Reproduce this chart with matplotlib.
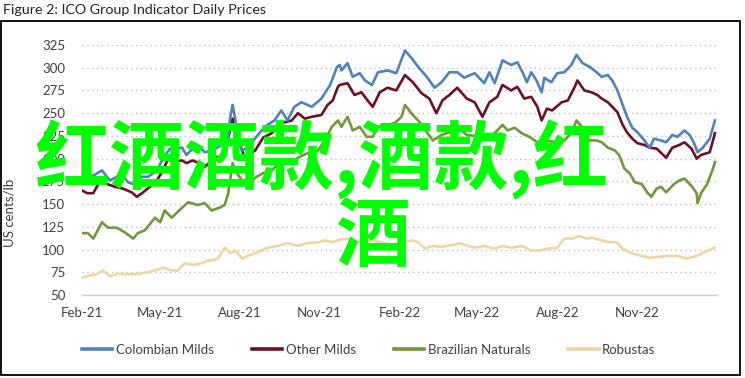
import matplotlib
matplotlib.use("Agg")
import matplotlib.pyplot as plt
import matplotlib.dates as mdates
import pandas as pd
from matplotlib.patches import Rectangle

title = "Figure 2: ICO Group Indicator Daily Prices"
ylabel = "US cents/lb"
watermark_1 = "红酒酒款,酒款,红"
watermark_2 = "酒"

colombian_dates = [
    "2021-02-01", "2021-02-24", "2021-03-05", "2021-03-13", "2021-03-20", "2021-03-26",
    "2021-04-01", "2021-04-09", "2021-04-18", "2021-04-28", "2021-05-05", "2021-05-13",
    "2021-05-27", "2021-06-01", "2021-06-08", "2021-06-16", "2021-06-22", "2021-07-01",
    "2021-07-13", "2021-07-19", "2021-07-21", "2021-07-24", "2021-07-27", "2021-07-29",
    "2021-08-04", "2021-08-10", "2021-08-22", "2021-08-30", "2021-09-10", "2021-09-18",
    "2021-09-25", "2021-10-03", "2021-10-11", "2021-10-23", "2021-11-03", "2021-11-13",
    "2021-11-21", "2021-11-24", "2021-11-26", "2021-12-03", "2021-12-09", "2021-12-17",
    "2021-12-23", "2021-12-31", "2022-01-07", "2022-01-18", "2022-01-28", "2022-02-07",
    "2022-02-15", "2022-02-22", "2022-03-04", "2022-03-13", "2022-03-21", "2022-03-30",
    "2022-04-08", "2022-04-16", "2022-04-28", "2022-05-09", "2022-05-15", "2022-05-21",
    "2022-05-30", "2022-06-09", "2022-06-16", "2022-06-22", "2022-06-27", "2022-07-02",
    "2022-07-08", "2022-07-14", "2022-07-17", "2022-07-25", "2022-08-01", "2022-08-09",
    "2022-08-17", "2022-08-23", "2022-08-30", "2022-09-07", "2022-09-15", "2022-09-21",
    "2022-09-28", "2022-10-03", "2022-10-09", "2022-10-15", "2022-10-20", "2022-10-26",
    "2022-11-01", "2022-11-09", "2022-11-15", "2022-11-20", "2022-11-28", "2022-12-04",
    "2022-12-11", "2022-12-17", "2022-12-25", "2022-12-31", "2023-01-05", "2023-01-09",
    "2023-01-15", "2023-01-23", "2023-01-29",
]
colombian_vals = [
    174, 187, 176, 180, 181, 174, 172, 180, 180, 187, 200, 211,
    212, 204, 211, 213, 207, 209, 216, 222, 244, 259, 244, 224,
    209, 212, 226, 235, 242, 253, 242, 257, 262, 257, 266, 281,
    301, 303, 297, 305, 290, 294, 286, 281, 295, 297, 294, 319,
    310, 301, 290, 278, 284, 295, 295, 289, 294, 283, 295, 283,
    308, 303, 306, 295, 284, 295, 286, 273, 289, 284, 294, 295,
    303, 314, 305, 301, 295, 290, 292, 286, 275, 259, 246, 234,
    229, 220, 212, 222, 220, 218, 226, 224, 231, 226, 217, 207,
    212, 222, 242,
]

other_dates = [
    "2021-02-01", "2021-02-07", "2021-02-14", "2021-02-22", "2021-03-02", "2021-03-11",
    "2021-03-20", "2021-03-30", "2021-04-05", "2021-04-11", "2021-04-20", "2021-04-28",
    "2021-05-05", "2021-05-11", "2021-05-16", "2021-05-27", "2021-06-01", "2021-06-08",
    "2021-06-16", "2021-06-22", "2021-07-04", "2021-07-15", "2021-07-21", "2021-07-24",
    "2021-07-30", "2021-08-07", "2021-08-19", "2021-08-28", "2021-09-07", "2021-09-18",
    "2021-09-30", "2021-10-07", "2021-10-15", "2021-10-23", "2021-11-03", "2021-11-10",
    "2021-11-16", "2021-11-22", "2021-11-24", "2021-12-03", "2021-12-11", "2021-12-19",
    "2021-12-26", "2022-01-01", "2022-01-09", "2022-01-18", "2022-01-28", "2022-02-07",
    "2022-02-16", "2022-02-26", "2022-03-07", "2022-03-15", "2022-03-22", "2022-03-30",
    "2022-04-08", "2022-04-19", "2022-04-28", "2022-05-07", "2022-05-15", "2022-05-24",
    "2022-05-30", "2022-06-09", "2022-06-16", "2022-06-24", "2022-07-02", "2022-07-09",
    "2022-07-14", "2022-07-20", "2022-07-26", "2022-08-06", "2022-08-13", "2022-08-21",
    "2022-08-24", "2022-09-01", "2022-09-09", "2022-09-16", "2022-09-21", "2022-09-28",
    "2022-10-03", "2022-10-09", "2022-10-15", "2022-10-20", "2022-10-26", "2022-11-01",
    "2022-11-09", "2022-11-15", "2022-11-23", "2022-12-04", "2022-12-11", "2022-12-19",
    "2022-12-25", "2023-01-02", "2023-01-08", "2023-01-13", "2023-01-23", "2023-01-29",
]
other_vals = [
    165, 162, 162, 176, 172, 169, 167, 163, 158, 162, 169, 176,
    187, 200, 196, 198, 195, 198, 195, 191, 201, 204, 231, 244,
    222, 201, 209, 223, 228, 239, 242, 250, 244, 246, 248, 259,
    264, 279, 281, 283, 270, 273, 264, 257, 273, 278, 275, 292,
    284, 272, 266, 250, 264, 270, 278, 266, 262, 246, 262, 268,
    281, 275, 279, 266, 268, 257, 242, 255, 253, 262, 264, 279,
    286, 275, 273, 270, 266, 262, 257, 251, 237, 229, 222, 217,
    215, 212, 211, 201, 212, 215, 218, 211, 200, 204, 207, 228,
]

brazil_dates = [
    "2021-02-01", "2021-02-08", "2021-02-14", "2021-02-24", "2021-03-03", "2021-03-13",
    "2021-03-22", "2021-04-01", "2021-04-06", "2021-04-14", "2021-04-26", "2021-05-02",
    "2021-05-07", "2021-05-15", "2021-05-27", "2021-06-03", "2021-06-14", "2021-06-22",
    "2021-06-30", "2021-07-09", "2021-07-15", "2021-07-19", "2021-07-24", "2021-07-29",
    "2021-08-04", "2021-08-10", "2021-08-19", "2021-08-28", "2021-09-07", "2021-09-18",
    "2021-09-30", "2021-10-07", "2021-10-18", "2021-10-30", "2021-11-07", "2021-11-15",
    "2021-11-22", "2021-11-26", "2021-12-03", "2021-12-09", "2021-12-17", "2021-12-25",
    "2022-01-01", "2022-01-07", "2022-01-17", "2022-01-26", "2022-02-03", "2022-02-07",
    "2022-02-16", "2022-02-24", "2022-03-04", "2022-03-11", "2022-03-21", "2022-03-30",
    "2022-04-08", "2022-04-19", "2022-04-28", "2022-05-09", "2022-05-21", "2022-05-30",
    "2022-06-05", "2022-06-13", "2022-06-21", "2022-06-30", "2022-07-09", "2022-07-20",
    "2022-07-31", "2022-08-09", "2022-08-17", "2022-08-23", "2022-08-29", "2022-09-05",
    "2022-09-15", "2022-09-21", "2022-09-28", "2022-10-06", "2022-10-11", "2022-10-17",
    "2022-10-23", "2022-10-29", "2022-11-06", "2022-11-12", "2022-11-17", "2022-11-23",
    "2022-11-28", "2022-12-04", "2022-12-13", "2022-12-19", "2022-12-25", "2023-01-02",
    "2023-01-08", "2023-01-09", "2023-01-13", "2023-01-20", "2023-01-26", "2023-01-29",
]
brazil_vals = [
    118, 118, 112, 130, 124, 124, 119, 112, 118, 121, 135, 130,
    143, 135, 146, 152, 149, 151, 143, 146, 149, 162, 195, 184,
    176, 172, 179, 184, 187, 198, 195, 201, 206, 209, 220, 235,
    242, 235, 246, 231, 235, 224, 224, 235, 237, 239, 246, 259,
    248, 240, 229, 220, 226, 229, 235, 226, 225, 222, 228, 237,
    231, 234, 228, 224, 218, 220, 218, 220, 228, 242, 235, 220,
    220, 218, 212, 209, 204, 189, 184, 174, 172, 163, 158, 167,
    169, 163, 172, 176, 178, 170, 162, 151, 162, 172, 187, 196,
]

robusta_dates = [
    "2021-02-01", "2021-02-08", "2021-02-18", "2021-02-25", "2021-03-05", "2021-03-14",
    "2021-03-26", "2021-04-06", "2021-04-17", "2021-04-26", "2021-05-05", "2021-05-15",
    "2021-05-22", "2021-05-30", "2021-06-08", "2021-06-19", "2021-06-26", "2021-06-30",
    "2021-07-07", "2021-07-15", "2021-07-21", "2021-07-27", "2021-08-04", "2021-08-10",
    "2021-08-22", "2021-09-02", "2021-09-14", "2021-09-25", "2021-10-07", "2021-10-18",
    "2021-10-30", "2021-11-07", "2021-11-16", "2021-11-24", "2021-12-03", "2021-12-11",
    "2021-12-19", "2021-12-31", "2022-01-11", "2022-01-23", "2022-02-03", "2022-02-15",
    "2022-02-22", "2022-03-02", "2022-03-10", "2022-03-21", "2022-04-02", "2022-04-11",
    "2022-04-20", "2022-04-28", "2022-05-09", "2022-05-21", "2022-05-30", "2022-06-09",
    "2022-06-21", "2022-07-02", "2022-07-12", "2022-07-21", "2022-08-01", "2022-08-09",
    "2022-08-18", "2022-08-26", "2022-09-03", "2022-09-10", "2022-09-21", "2022-09-30",
    "2022-10-08", "2022-10-15", "2022-10-25", "2022-11-06", "2022-11-15", "2022-11-24",
    "2022-12-05", "2022-12-17", "2022-12-28", "2023-01-08", "2023-01-17", "2023-01-28",
]
robusta_vals = [
    69, 71, 73, 77, 71, 73, 73, 73, 75, 77, 80, 77,
    77, 85, 83, 85, 88, 88, 90, 102, 96, 99, 90, 93,
    97, 102, 104, 107, 104, 107, 108, 110, 108, 111, 112, 110,
    108, 110, 108, 105, 108, 110, 108, 101, 104, 103, 105, 107,
    104, 102, 104, 101, 104, 102, 104, 99, 99, 101, 102, 112,
    112, 115, 112, 113, 110, 108, 108, 101, 96, 93, 91, 92,
    93, 93, 90, 93, 97, 102,
]

series_names = ["Colombian Milds", "Other Milds", "Brazilian Naturals", "Robustas"]
series_colors = ["#4f81bd", "#6e1025", "#73973d", "#ecd6a4"]
yticks = [50, 75, 100, 125, 150, 175, 200, 225, 250, 275, 300, 325]
xtick_dates = ["2021-02-01", "2021-05-01", "2021-08-01", "2021-11-01",
               "2022-02-01", "2022-05-01", "2022-08-01", "2022-11-01"]

plt.rcParams['font.family'] = ['Lato', 'DejaVu Sans']

fig = plt.figure(figsize=(7.45, 3.78), dpi=100)
ax = fig.add_axes([0.110, 0.2196, 0.852, 0.6614])

all_series = [
    (colombian_dates, colombian_vals),
    (other_dates, other_vals),
    (brazil_dates, brazil_vals),
    (robusta_dates, robusta_vals),
]
# robustas first so the other lines sit on top like in the source
for i in [3, 2, 1, 0]:
    d, v = all_series[i]
    ax.plot(pd.to_datetime(d), v, color=series_colors[i], lw=1.9,
            label=series_names[i], zorder=3 + (3 - i))

ax.set_ylim(50, 325)
ax.set_yticks(yticks)
ax.set_xlim(pd.Timestamp("2021-02-01"), pd.Timestamp("2023-01-31"))
ax.set_xticks(pd.to_datetime(xtick_dates))
ax.xaxis.set_major_formatter(mdates.DateFormatter("%b-%y"))

for s in ["top", "right", "left"]:
    ax.spines[s].set_visible(False)
ax.spines["bottom"].set_color("#d0d0d0")
ax.spines["bottom"].set_linewidth(1.0)
ax.tick_params(length=0, labelsize=9.5, colors="#404040")
ax.tick_params(axis="y", pad=12)
ax.tick_params(axis="x", pad=9)
for y in yticks[1:]:
    ax.axhline(y, color="#bdbdbd", lw=1.0, ls=(0, (1, 2.5)), zorder=1)

fig.text(0.013, 0.4365, ylabel, rotation=90, ha="center", va="center",
         fontsize=9.5, color="#404040")

handles, labels = ax.get_legend_handles_labels()
order = [labels.index(n) for n in series_names]
fig.legend([handles[i] for i in order], series_names, loc="center",
           bbox_to_anchor=(0.495, 0.074), ncol=4, frameon=False, fontsize=9.5,
           handlelength=2.3, handletextpad=0.25, columnspacing=2.9,
           labelcolor="#404040")
for lh in fig.legends[0].legend_handles:
    lh.set_linewidth(2.6)

fig.text(0.004, 0.9735, title, ha="left", va="center", fontsize=10.3, color="#222222")
fig.patches.append(Rectangle((0.002, 0.008), 0.991, 0.936, transform=fig.transFigure,
                             fill=False, edgecolor="black", lw=1.3))

wm = dict(color="#00ff00", fontsize=54, fontweight="bold",
          family=["Noto Sans CJK SC", "DejaVu Sans"], va="center", ha="left", zorder=10)
fig.text(35 / 745, 1 - 160 / 378, watermark_1, **wm)
fig.text(335 / 745, 1 - 238 / 378, watermark_2, **wm)

fig.savefig("out.png", dpi=100)
